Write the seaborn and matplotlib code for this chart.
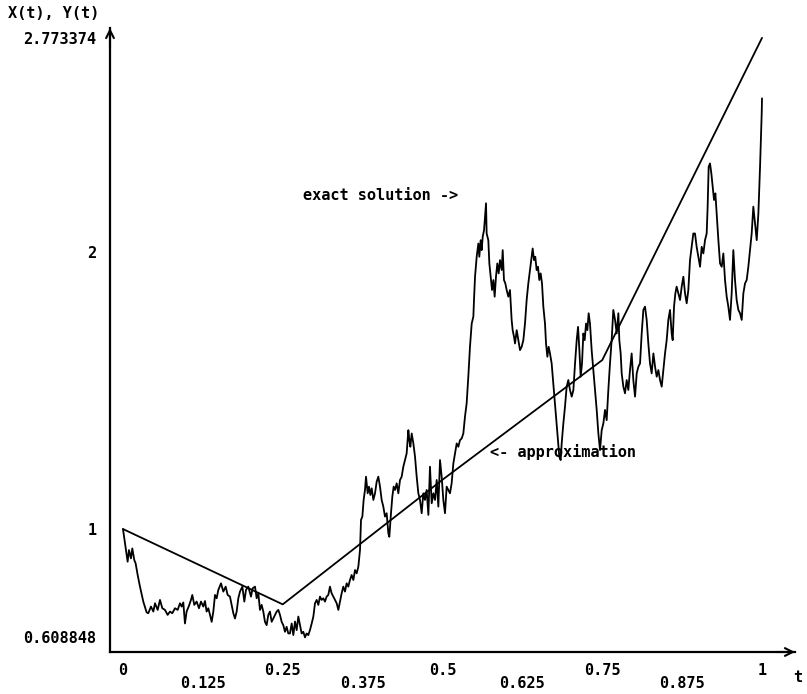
import matplotlib
matplotlib.use("Agg")
import matplotlib.pyplot as plt
import seaborn as sns
import pandas as pd

# Exact solution X(t), sampled path, split into four stretches of t
t_a = [0.0, 0.0073, 0.0094, 0.0125, 0.0146, 0.0177, 0.0198, 0.023, 0.0266, 0.0318,
       0.037, 0.0396, 0.0438, 0.0475, 0.0501, 0.0543, 0.0579, 0.0616, 0.0657, 0.0699,
       0.0736, 0.0772, 0.0814, 0.0856, 0.0892, 0.0918, 0.0944, 0.097, 0.0996, 0.1033,
       0.1064, 0.1085, 0.1116, 0.1153, 0.1189, 0.1221, 0.1257, 0.1283, 0.1309, 0.1335,
       0.1362, 0.1388, 0.1414, 0.144, 0.1466, 0.1492, 0.1534, 0.157, 0.1607, 0.1638,
       0.1674, 0.1701, 0.1727, 0.1753, 0.1779, 0.1805, 0.1831, 0.1868, 0.1899, 0.1925,
       0.1961, 0.2003, 0.2029, 0.2066, 0.2092, 0.2118, 0.2144, 0.217, 0.2196, 0.2222,
       0.2248, 0.2274, 0.23, 0.2327, 0.2368, 0.2405, 0.2431, 0.2457, 0.2483, 0.2509,
       0.2535, 0.2561, 0.2587]
y_a = [1.0, 0.882, 0.924, 0.894, 0.930, 0.888, 0.876, 0.834, 0.792, 0.738,
       0.699, 0.696, 0.720, 0.702, 0.732, 0.708, 0.744, 0.714, 0.708, 0.690,
       0.702, 0.696, 0.714, 0.708, 0.732, 0.720, 0.735, 0.659, 0.702, 0.723,
       0.744, 0.762, 0.726, 0.738, 0.714, 0.738, 0.720, 0.740, 0.702, 0.714,
       0.690, 0.665, 0.702, 0.762, 0.750, 0.780, 0.804, 0.774, 0.792, 0.762,
       0.756, 0.726, 0.696, 0.677, 0.702, 0.750, 0.774, 0.792, 0.738, 0.780,
       0.792, 0.756, 0.786, 0.792, 0.750, 0.768, 0.708, 0.726, 0.702, 0.665,
       0.653, 0.690, 0.702, 0.665, 0.684, 0.702, 0.708, 0.690, 0.665, 0.653,
       0.629, 0.647, 0.623]

t_b = [0.2613, 0.264, 0.2666, 0.2692, 0.2718, 0.2744, 0.277, 0.2796, 0.2822, 0.2848,
       0.2874, 0.29, 0.2926, 0.2953, 0.2979, 0.3005, 0.3031, 0.3057, 0.3083, 0.3109,
       0.3135, 0.3161, 0.3187, 0.3213, 0.3239, 0.3265, 0.3292, 0.3318, 0.3344, 0.337,
       0.3396, 0.3422, 0.3448, 0.3474, 0.35, 0.3526, 0.3552, 0.3578, 0.3605, 0.3631,
       0.3657, 0.3683, 0.3709, 0.3725, 0.3746, 0.3766, 0.3787, 0.3803, 0.3829, 0.385,
       0.3871, 0.3892, 0.3918, 0.3944, 0.397, 0.3996, 0.4022, 0.4048, 0.4074, 0.41,
       0.4126, 0.4153, 0.4168, 0.4194, 0.4215, 0.4236, 0.4257, 0.4283, 0.4309, 0.4335,
       0.4361, 0.4387, 0.4413, 0.4439, 0.4466, 0.4481, 0.4497, 0.4518, 0.4544, 0.457,
       0.4596, 0.4622, 0.4648, 0.4674, 0.47, 0.4726, 0.4752, 0.4779, 0.4804, 0.4831,
       0.4857, 0.4883, 0.4909, 0.4935, 0.4961, 0.4987, 0.5013, 0.5039, 0.5065, 0.5091,
       0.5117, 0.5143, 0.517, 0.5196, 0.5222, 0.5248, 0.5274, 0.53, 0.5326, 0.5352]
y_b = [0.623, 0.659, 0.617, 0.666, 0.635, 0.684, 0.653, 0.623, 0.629, 0.608848,
       0.623, 0.617, 0.635, 0.659, 0.684, 0.732, 0.744, 0.726, 0.756, 0.744,
       0.750, 0.738, 0.756, 0.762, 0.792, 0.768, 0.756, 0.744, 0.732, 0.708,
       0.738, 0.768, 0.792, 0.774, 0.804, 0.792, 0.816, 0.834, 0.816, 0.852,
       0.840, 0.864, 0.924, 1.033, 1.045, 1.105, 1.141, 1.189, 1.129, 1.153,
       1.123, 1.147, 1.105, 1.129, 1.171, 1.189, 1.153, 1.105, 1.081, 1.045,
       1.057, 0.984, 0.972, 1.057, 1.117, 1.153, 1.141, 1.165, 1.129, 1.177,
       1.189, 1.225, 1.249, 1.273, 1.357, 1.321, 1.297, 1.345, 1.309, 1.261,
       1.189, 1.129, 1.105, 1.057, 1.129, 1.105, 1.141, 1.051, 1.225, 1.093,
       1.129, 1.105, 1.177, 1.081, 1.249, 1.189, 1.105, 1.057, 1.153, 1.141,
       1.129, 1.165, 1.237, 1.273, 1.309, 1.297, 1.321, 1.327, 1.345, 1.406]

t_c = [0.5378, 0.5404, 0.543, 0.5457, 0.5483, 0.5493, 0.5509, 0.5535, 0.5561, 0.5576,
       0.5597, 0.5613, 0.5629, 0.565, 0.5665, 0.5681, 0.5691, 0.5717, 0.5733, 0.5754,
       0.5775, 0.5796, 0.5816, 0.5837, 0.5858, 0.5879, 0.59, 0.5926, 0.5942, 0.5962,
       0.5983, 0.6004, 0.603, 0.6056, 0.6082, 0.6098, 0.6119, 0.6135, 0.6161, 0.6187,
       0.6213, 0.6239, 0.6265, 0.6291, 0.6317, 0.6343, 0.6369, 0.6395, 0.6411, 0.6432,
       0.6452, 0.6473, 0.6494, 0.6515, 0.6536, 0.6557, 0.6578, 0.6604, 0.662, 0.6641,
       0.6661, 0.6682, 0.6708, 0.6734, 0.676, 0.6787, 0.6813, 0.6828, 0.6849, 0.6865,
       0.6891, 0.6917, 0.6943, 0.6969, 0.6995, 0.7022, 0.7048, 0.7074, 0.71, 0.7121,
       0.7142, 0.7162, 0.7183, 0.7204, 0.7225, 0.7246, 0.7267, 0.7287, 0.7308, 0.7334,
       0.736, 0.7386, 0.7413, 0.7439, 0.7465, 0.7491, 0.7517, 0.7543, 0.7569, 0.7595,
       0.7621, 0.7647]
y_c = [1.454, 1.550, 1.658, 1.742, 1.767, 1.827, 1.911, 1.983, 2.031, 1.983,
       2.043, 2.007, 2.055, 2.079, 2.128, 2.176, 2.067, 2.043, 1.959, 1.911,
       1.863, 1.899, 1.839, 1.911, 1.959, 1.923, 1.971, 1.935, 2.007, 1.899,
       1.887, 1.863, 1.839, 1.863, 1.755, 1.718, 1.694, 1.670, 1.718, 1.682,
       1.646, 1.658, 1.682, 1.742, 1.827, 1.887, 1.935, 1.983, 2.013, 1.971,
       1.983, 1.935, 1.947, 1.899, 1.923, 1.887, 1.803, 1.742, 1.670, 1.622,
       1.658, 1.634, 1.598, 1.526, 1.454, 1.381, 1.309, 1.261, 1.249, 1.309,
       1.381, 1.442, 1.514, 1.538, 1.502, 1.478, 1.502, 1.598, 1.682, 1.730,
       1.646, 1.550, 1.598, 1.706, 1.682, 1.742, 1.718, 1.779, 1.742, 1.646,
       1.574, 1.502, 1.430, 1.345, 1.285, 1.357, 1.381, 1.430, 1.393, 1.502,
       1.598, 1.682]

t_d = [0.7673, 0.77, 0.7726, 0.7752, 0.7767, 0.7788, 0.7804, 0.783, 0.7856, 0.7882,
       0.7908, 0.7934, 0.796, 0.7986, 0.8013, 0.8039, 0.8065, 0.8091, 0.8117, 0.8143,
       0.8169, 0.8195, 0.8221, 0.8247, 0.8273, 0.83, 0.8326, 0.8352, 0.8378, 0.8404,
       0.843, 0.8456, 0.8482, 0.8508, 0.8534, 0.856, 0.8586, 0.8602, 0.8623, 0.8644,
       0.8664, 0.869, 0.8717, 0.8743, 0.8769, 0.8795, 0.8821, 0.8847, 0.8873, 0.8899,
       0.8925, 0.8951, 0.8977, 0.9003, 0.903, 0.9056, 0.9082, 0.9108, 0.9134, 0.9149,
       0.9165, 0.9186, 0.9207, 0.9228, 0.9249, 0.927, 0.929, 0.9317, 0.9343, 0.9369,
       0.9395, 0.9421, 0.9447, 0.9473, 0.9499, 0.9525, 0.9551, 0.9577, 0.9603, 0.963,
       0.9656, 0.9682, 0.9708, 0.9734, 0.976, 0.9786, 0.9812, 0.9838, 0.9864, 0.989,
       0.9917, 0.9943, 0.9969, 0.9995, 1.0]
y_d = [1.791, 1.755, 1.706, 1.779, 1.682, 1.634, 1.562, 1.514, 1.490, 1.538,
       1.502, 1.574, 1.634, 1.538, 1.478, 1.562, 1.586, 1.598, 1.706, 1.791,
       1.803, 1.755, 1.670, 1.598, 1.562, 1.634, 1.586, 1.550, 1.574, 1.538,
       1.514, 1.574, 1.634, 1.682, 1.755, 1.791, 1.706, 1.682, 1.803, 1.851,
       1.875, 1.851, 1.827, 1.875, 1.911, 1.851, 1.815, 1.863, 1.971, 2.019,
       2.067, 2.067, 2.019, 1.983, 1.947, 2.019, 1.995, 2.043, 2.067, 2.164,
       2.308, 2.320, 2.284, 2.236, 2.188, 2.212, 2.140, 2.043, 1.959, 1.947,
       1.995, 1.899, 1.839, 1.803, 1.755, 1.851, 2.007, 1.899, 1.827, 1.791,
       1.779, 1.755, 1.851, 1.887, 1.899, 1.947, 2.007, 2.067, 2.164, 2.103,
       2.043, 2.140, 2.308, 2.501, 2.555]

# Piecewise-linear approximation Y(t) on the coarse grid
approx_t = [0.0, 0.25, 0.5, 0.75, 1.0]
approx_y = [1.0, 0.728, 1.178, 1.610, 2.773374]

# Axis ticks and their labels
y_ticks = [0.608848, 1.0, 2.0, 2.773374]
y_tick_labels = ["0.608848", "1", "2", "2.773374"]
x_major = [0.0, 0.25, 0.5, 0.75, 1.0]
x_major_labels = ["0", "0.25", "0.5", "0.75", "1"]
x_minor = [0.125, 0.375, 0.625, 0.875]
x_minor_labels = ["0.125", "0.375", "0.625", "0.875"]

sns.set_style("white")
plt.rcParams["font.family"] = ["DejaVu Sans Mono", "DejaVu Sans"]
plt.rcParams["font.weight"] = "bold"
plt.rcParams["text.color"] = "black"
FS = 11

W, H = 807, 694
fig = plt.figure(figsize=(W / 100, H / 100), dpi=100)
ax = fig.add_axes([110 / W, 1 - 652 / H, 685 / W, 624 / H])

exact = pd.DataFrame({"t": t_a + t_b + t_c + t_d, "y": y_a + y_b + y_c + y_d})
approx = pd.DataFrame({"t": approx_t, "y": approx_y})
sns.lineplot(data=exact, x="t", y="y", ax=ax, color="black", lw=1.3,
             estimator=None, sort=False)
sns.lineplot(data=approx, x="t", y="y", ax=ax, color="black", lw=1.3,
             estimator=None, sort=False)

ax.set_xlim(-0.0203, 1.0516)
ax.set_ylim(0.556, 2.809)
ax.set_xlabel("")
ax.set_ylabel("")

for side in ("top", "right"):
    ax.spines[side].set_visible(False)
for side in ("left", "bottom"):
    ax.spines[side].set_color("black")
    ax.spines[side].set_linewidth(1.6)

ax.set_yticks(y_ticks)
ax.set_yticklabels(y_tick_labels, fontsize=FS, fontweight="bold")
ax.set_xticks(x_major)
ax.set_xticklabels(x_major_labels, fontsize=FS, fontweight="bold")
ax.set_xticks(x_minor, minor=True)
ax.set_xticklabels(x_minor_labels, minor=True, fontsize=FS, fontweight="bold")
ax.tick_params(axis="both", which="both", direction="inout", length=7,
               width=1.5, color="black", labelcolor="black")
ax.tick_params(axis="y", pad=6.4)
ax.tick_params(axis="x", which="major", pad=4.6)
ax.tick_params(axis="x", which="minor", pad=13.9)

# Arrow heads at the ends of both axes
arrow = dict(arrowstyle="->", lw=1.5, color="black", shrinkA=0, shrinkB=0,
             mutation_scale=14)
ax.annotate("", xy=(1, 0), xycoords="axes fraction", xytext=(-14, 0),
            textcoords="offset points", arrowprops=arrow, annotation_clip=False)
ax.annotate("", xy=(0, 1), xycoords="axes fraction", xytext=(0, -14),
            textcoords="offset points", arrowprops=arrow, annotation_clip=False)

# Axis names
fig.text(8 / W, 1 - 13 / H, "X(t), Y(t)", fontsize=FS, fontweight="bold",
         ha="left", va="center")
fig.text(798 / W, 1 - 678 / H, "t", fontsize=FS, fontweight="bold",
         ha="center", va="center")

# Curve labels
ax.text(0.2817, 2.206, "exact solution ->", fontsize=FS, fontweight="bold",
        ha="left", va="center")
ax.text(0.5743, 1.278, "<- approximation", fontsize=FS, fontweight="bold",
        ha="left", va="center")

fig.savefig("out.png", dpi=100, facecolor="white")
